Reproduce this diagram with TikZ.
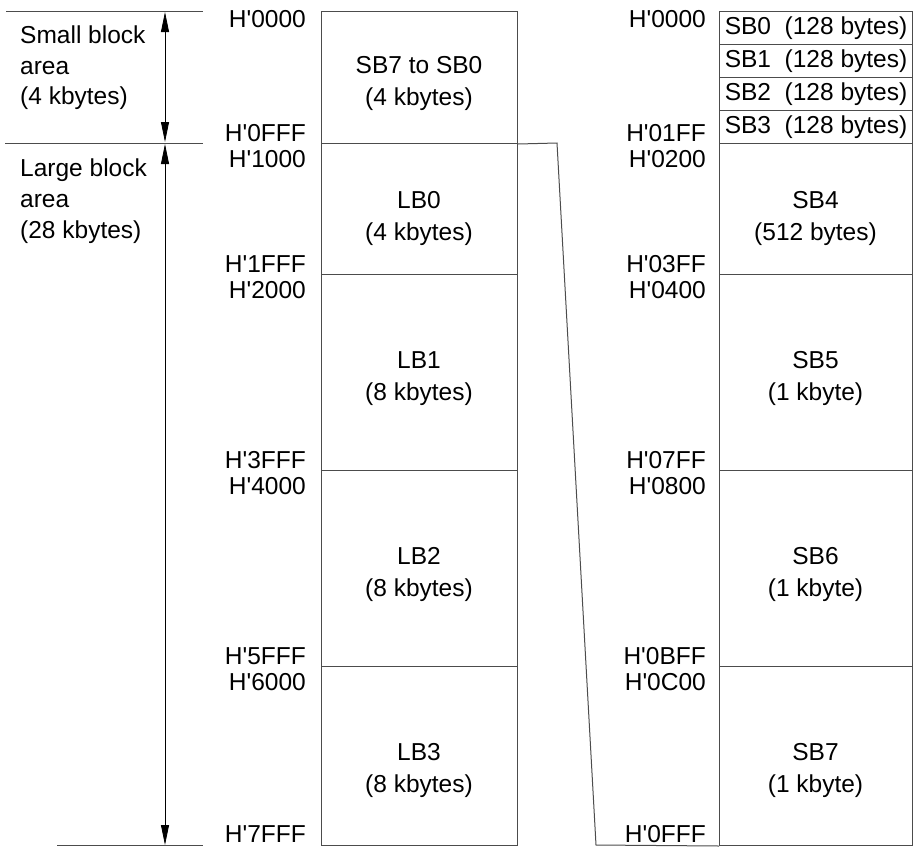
\documentclass[tikz,border=0pt]{standalone}
\usepackage{fontspec}
\setmainfont{Liberation Sans}
\usetikzlibrary{arrows.meta}
\newcommand{\Hq}{H\textquotesingle}
\begin{document}
\begin{tikzpicture}[x=1pt,y=-1pt,
  every node/.style={font=\fontsize{24.5}{30}\selectfont, inner sep=0pt},
  blk/.style={draw=black!70, line width=1pt, rectangle, minimum width=196pt, anchor=north west},
  blkR/.style={blk, minimum width=193pt},
  addrL/.style={anchor=base east},
  txt/.style={anchor=base},
  lft/.style={anchor=base west},
  rule/.style={draw=black!70, line width=1pt},
  dim/.style={line width=0.8pt, {Triangle[length=20pt,width=8pt]}-{Triangle[length=20pt,width=8pt]}}]
\useasboundingbox (0,0) rectangle (916,852);

% left column blocks
\node[blk, minimum height=132pt] (sb70) at (321,11) {};
\node[blk, minimum height=131pt] (lb0) at (321,143) {};
\node[blk, minimum height=196pt] (lb1) at (321,274) {};
\node[blk, minimum height=196pt] (lb2) at (321,470) {};
\node[blk, minimum height=179pt] (lb3) at (321,666) {};

% right column blocks
\node[blkR, minimum height=33pt] (sb0) at (719,11) {SB0\ \ (128 bytes)};
\node[blkR, minimum height=33pt] (sb1) at (719,44) {SB1\ \ (128 bytes)};
\node[blkR, minimum height=33pt] (sb2) at (719,77) {SB2\ \ (128 bytes)};
\node[blkR, minimum height=33pt] (sb3) at (719,110) {SB3\ \ (128 bytes)};
\node[blkR, minimum height=131pt] (sb4) at (719,143) {};
\node[blkR, minimum height=196pt] (sb5) at (719,274) {};
\node[blkR, minimum height=196pt] (sb6) at (719,470) {};
\node[blkR, minimum height=179pt] (sb7) at (719,666) {};

% block texts
\node[txt] (t0a) at (419,73) {SB7 to SB0};
\node[txt] (t0b) at (419,105) {(4 kbytes)};
\node[txt] (t1a) at (419,208) {LB0};
\node[txt] (t1b) at (419,240) {(4 kbytes)};
\node[txt] (t2a) at (419,368) {LB1};
\node[txt] (t2b) at (419,400) {(8 kbytes)};
\node[txt] (t3a) at (419,564) {LB2};
\node[txt] (t3b) at (419,596) {(8 kbytes)};
\node[txt] (t4a) at (419,760) {LB3};
\node[txt] (t4b) at (419,792) {(8 kbytes)};

\node[txt] (u1a) at (815.5,208) {SB4};
\node[txt] (u1b) at (815.5,240) {(512 bytes)};
\node[txt] (u2a) at (815.5,368) {SB5};
\node[txt] (u2b) at (815.5,400) {(1 kbyte)};
\node[txt] (u3a) at (815.5,564) {SB6};
\node[txt] (u3b) at (815.5,596) {(1 kbyte)};
\node[txt] (u4a) at (815.5,760) {SB7};
\node[txt] (u4b) at (815.5,792) {(1 kbyte)};

% left addresses
\node[addrL] (la0) at (306,27) {\Hq0000};
\node[addrL] (la1) at (306,141) {\Hq0FFF};
\node[addrL] (la2) at (306,167) {\Hq1000};
\node[addrL] (la3) at (306,272) {\Hq1FFF};
\node[addrL] (la4) at (306,298) {\Hq2000};
\node[addrL] (la5) at (306,468) {\Hq3FFF};
\node[addrL] (la6) at (306,494) {\Hq4000};
\node[addrL] (la7) at (306,664) {\Hq5FFF};
\node[addrL] (la8) at (306,690) {\Hq6000};
\node[addrL] (la9) at (306,842) {\Hq7FFF};

% right addresses
\node[addrL] (ra0) at (706,27) {\Hq0000};
\node[addrL] (ra1) at (706,141) {\Hq01FF};
\node[addrL] (ra2) at (706,167) {\Hq0200};
\node[addrL] (ra3) at (706,272) {\Hq03FF};
\node[addrL] (ra4) at (706,298) {\Hq0400};
\node[addrL] (ra5) at (706,468) {\Hq07FF};
\node[addrL] (ra6) at (706,494) {\Hq0800};
\node[addrL] (ra7) at (706,664) {\Hq0BFF};
\node[addrL] (ra8) at (706,690) {\Hq0C00};
\node[addrL] (ra9) at (706,842) {\Hq0FFF};

% area texts
\node[lft] (sa1) at (20,43) {Small block};
\node[lft] (sa2) at (20,74) {area};
\node[lft] (sa3) at (20,104) {(4 kbytes)};
\node[lft] (la1t) at (20,176) {Large block};
\node[lft] (la2t) at (20,207) {area};
\node[lft] (la3t) at (20,238) {(28 kbytes)};

% rules
\coordinate (r0a) at (6,11);  \coordinate (r0b) at (203,11);
\coordinate (r1a) at (5,143); \coordinate (r1b) at (203,143);
\coordinate (r2a) at (57,845); \coordinate (r2b) at (203,845);
\draw[rule] (r0a) -- (r0b);
\draw[rule] (r1a) -- (r1b);
\draw[rule] (r2a) -- (r2b);

% dimension arrows
\coordinate (a0) at (165,12); \coordinate (a1) at (165,142);
\coordinate (a2) at (165,144); \coordinate (a3) at (165,845);
\draw[dim] (a0) -- (a1);
\draw[dim] (a2) -- (a3);

% connector between columns
\coordinate (kA) at (557,143);
\coordinate (kB) at (596,845);
\draw[rule] (sb70.south east) -- (kA) -- (kB) -- (sb7.south west);
\end{tikzpicture}
\end{document}
